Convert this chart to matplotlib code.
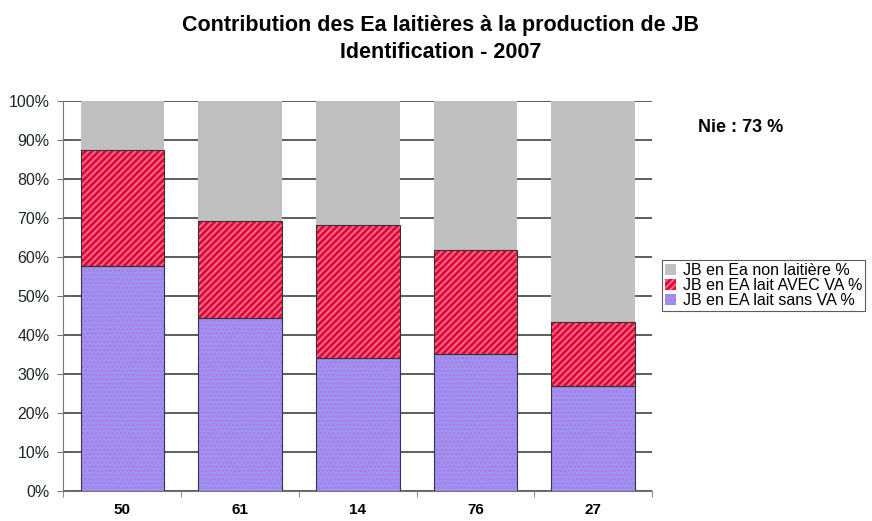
import matplotlib.pyplot as plt
import numpy as np

plt.rcParams['font.family'] = ['Liberation Sans', 'DejaVu Sans']
plt.rcParams['hatch.linewidth'] = 1.3

categories = ['50', '61', '14', '76', '27']
sans_va = [57.8, 44.4, 34.2, 35.1, 27.0]
avec_va = [29.6, 24.8, 34.0, 26.7, 16.4]
non_laitiere = [12.6, 30.8, 31.8, 38.2, 56.6]

fig = plt.figure(figsize=(8.72, 5.21), dpi=100)
ax = fig.add_axes([0.0728, 0.0576, 0.675, 0.7486])

x = np.arange(len(categories))
w = 0.71
bot2 = np.array(sans_va)
bot3 = bot2 + np.array(avec_va)

b1 = ax.bar(x, sans_va, w, color='#9A95F8', hatch='....', edgecolor='#B876D2',
            linewidth=0, zorder=2)
b2 = ax.bar(x, avec_va, w, bottom=bot2, color='#DD0A38', hatch='/////',
            edgecolor='#FF6F8E', linewidth=0, zorder=2)
b3 = ax.bar(x, non_laitiere, w, bottom=bot3, color='#C0C0C0', linewidth=0, zorder=2)
# outlines for the coloured segments
ax.bar(x, sans_va, w, fill=False, edgecolor='#333355', linewidth=0.8, zorder=3)
ax.bar(x, avec_va, w, bottom=bot2, fill=False, edgecolor='#333333', linewidth=0.8, zorder=3)

ax.set_xlim(-0.5, len(categories) - 0.5)
ax.set_ylim(0, 100)
ax.set_yticks(np.arange(0, 101, 10))
ax.set_yticklabels([f'{v}%' for v in range(0, 101, 10)], fontsize=11.5, color='#1c2626')
ax.yaxis.grid(True, color='#505050', linewidth=1.3, zorder=0)
ax.set_axisbelow(True)

ax.set_xticks(x)
ax.set_xticklabels(categories, fontsize=11, fontweight='bold')
ax.tick_params(axis='x', length=0, pad=9)
ax.set_xticks(np.arange(-0.5, len(categories)), minor=True)
ax.tick_params(axis='x', which='minor', length=4, color='#777777', direction='out')
ax.tick_params(axis='y', length=4, color='#777777', direction='out', pad=6)

for s in ['top', 'right']:
    ax.spines[s].set_visible(False)
ax.spines['left'].set_color('#777777')
ax.spines['bottom'].set_color('#777777')

fig.text(0.505, 0.952, 'Contribution des Ea laitières à la production de JB',
         fontsize=15.5, fontweight='bold', ha='center', va='center')
fig.text(0.505, 0.900, 'Identification - 2007',
         fontsize=15.5, fontweight='bold', ha='center', va='center')
fig.text(0.800, 0.755, 'Nie : 73 %', fontsize=13, fontweight='bold', va='center')

leg = ax.legend([b3, b2, b1],
                ['JB en Ea non laitière %', 'JB en EA lait AVEC VA %', 'JB en EA lait sans VA %'],
                loc='upper left', bbox_to_anchor=(1.017, 0.592), fontsize=11.5,
                frameon=True, fancybox=False, handlelength=0.65, handleheight=0.65,
                handletextpad=0.45, borderpad=0.2, labelspacing=0.0, borderaxespad=0)
leg.get_frame().set_edgecolor('#333333')
leg.get_frame().set_linewidth(0.8)

fig.savefig('out.png', dpi=100)
